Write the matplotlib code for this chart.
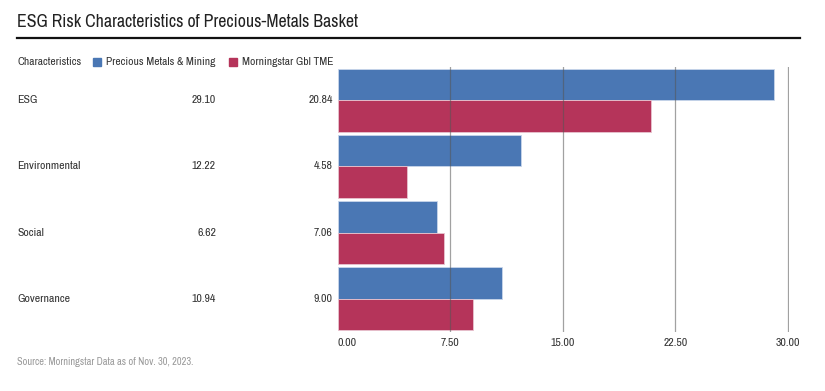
import matplotlib
matplotlib.use("Agg")
import matplotlib.pyplot as plt
from matplotlib.patches import Rectangle
from matplotlib.lines import Line2D
from matplotlib.transforms import blended_transform_factory
import numpy as np

# data
categories = ["ESG", "Environmental", "Social", "Governance"]
precious = [29.10, 12.22, 6.62, 10.94]
tme = [20.84, 4.58, 7.06, 9.00]
series_names = ["Precious Metals & Mining", "Morningstar Gbl TME"]
xticks = [0, 7.5, 15, 22.5, 30]

BLUE = "#4a77b4"
RED = "#b5345a"
# narrow face, close to the condensed font of the original
plt.rcParams["font.family"] = ["Archivo Narrow", "DejaVu Sans"]

fig = plt.figure(figsize=(8.25, 3.91), dpi=100)
ax = fig.add_axes([338 / 825, 1 - 332 / 391, 451 / 825, 265 / 391])

y = np.arange(len(categories))
h = 0.475
ax.barh(y - h / 2, precious, height=h, color=BLUE, edgecolor="#c9d6ea", linewidth=0.6, zorder=2)
ax.barh(y + h / 2, tme, height=h, color=RED, edgecolor="#e8c4cf", linewidth=0.6, zorder=2)

# grid drawn over the bars, no line at zero
for v in xticks[1:]:
    ax.axvline(v, color="#555555", alpha=0.55, linewidth=0.9, zorder=3)

ax.set_xlim(0, 30.07)
ax.set_ylim(len(categories) - 0.5, -0.5)
ax.set_xticks(xticks)
labels = ax.set_xticklabels([f"{v:.2f}" for v in xticks], fontsize=8.5, color="#333333")
labels[0].set_ha("left")
ax.tick_params(axis="x", length=0, pad=4)
ax.set_yticks([])
for s in ax.spines.values():
    s.set_visible(False)

# title and underline
fig.text(17 / 825, 1 - 22 / 391, "ESG Risk Characteristics of Precious-Metals Basket",
         fontsize=12.8, color="#222222", va="center", ha="left")
fig.add_artist(Line2D([17 / 825, 800 / 825], [1 - 38 / 391] * 2, color="#111111", linewidth=1.6))

# legend row
ly = 1 - 62 / 391
fig.text(17 / 825, ly, "Characteristics", fontsize=8.3, color="#333333", va="center")
fig.add_artist(Rectangle((93 / 825, ly - 4 / 391), 8 / 825, 8 / 391, color=BLUE, transform=fig.transFigure))
fig.text(106 / 825, ly, series_names[0], fontsize=8.3, color="#333333", va="center")
fig.add_artist(Rectangle((229 / 825, ly - 4 / 391), 8 / 825, 8 / 391, color=RED, transform=fig.transFigure))
fig.text(242 / 825, ly, series_names[1], fontsize=8.3, color="#333333", va="center")

# table rows
tr = blended_transform_factory(fig.transFigure, ax.transData)
for i, cat in enumerate(categories):
    ax.text(17 / 825, i, cat, transform=tr, fontsize=8.5, color="#333333", va="center", ha="left")
    ax.text(216 / 825, i, f"{precious[i]:.2f}", transform=tr, fontsize=8.5, color="#333333", va="center", ha="right")
    ax.text(333 / 825, i, f"{tme[i]:.2f}", transform=tr, fontsize=8.5, color="#333333", va="center", ha="right")

fig.text(17 / 825, 1 - 362 / 391, "Source: Morningstar Data as of Nov. 30, 2023.",
         fontsize=7.5, color="#999999", va="center")

fig.savefig("out.png", dpi=100)
